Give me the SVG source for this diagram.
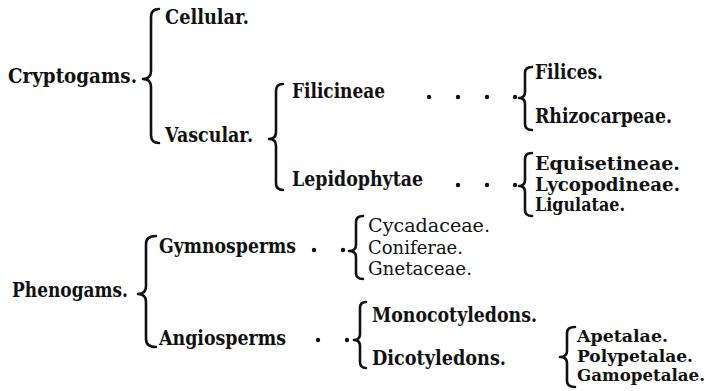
<svg xmlns="http://www.w3.org/2000/svg" width="712" height="391" viewBox="0 0 712 391">
<style>
text{font-family:"DejaVu Serif","Liberation Serif",serif;fill:#111}
.b{font-weight:bold;font-size:21px}
.s{font-weight:bold;font-size:20px}
.t{font-weight:bold;font-size:18px}
.u{font-weight:bold;font-size:17px}
.r{font-weight:normal;font-size:18px}
.br{fill:none;stroke:#111;stroke-width:2.6;stroke-linecap:round;stroke-linejoin:round}
.dot{fill:#111}
</style>
<rect width="712" height="391" fill="#fff"/>
<g id="connectors">
<path class="br" d="M159 9 Q151 9 151 17 L151 71 Q151 79 143 79 Q151 79 151 87 L151 135 Q151 143 159 143"/>
<path class="br" d="M283 84 Q276 84 276 91 L276 132 Q276 139 269 139 Q276 139 276 146 L276 183 Q276 190 283 190"/>
<path class="br" d="M532 67 Q525 67 525 73 L525 92 Q525 98 519 98 Q525 98 525 104 L525 124 Q525 130 532 130"/>
<path class="br" d="M532 153 Q525 153 525 159 L525 180 Q525 186 519 186 Q525 186 525 192 L525 210 Q525 216 532 216"/>
<path class="br" d="M156 236 Q146 236 146 244 L146 286 Q146 294 138 294 Q146 294 146 302 L146 339 Q146 347 156 347"/>
<path class="br" d="M363 216 Q356 216 356 222 L356 245 Q356 251 349 251 Q356 251 356 257 L356 273 Q356 279 363 279"/>
<path class="br" d="M366 302 Q360 302 360 308 L360 334 Q360 340 354 340 Q360 340 360 346 L360 362 Q360 368 366 368"/>
<path class="br" d="M575 327 Q567 327 567 333 L567 351 Q567 357 560 357 Q567 357 567 363 L567 381 Q567 387 575 387"/>
<circle class="dot" cx="429" cy="97" r="2.2"/>
<circle class="dot" cx="458" cy="97" r="2.2"/>
<circle class="dot" cx="487" cy="97" r="2.2"/>
<circle class="dot" cx="515" cy="97" r="2.2"/>
<circle class="dot" cx="458" cy="185" r="2.2"/>
<circle class="dot" cx="487" cy="185" r="2.2"/>
<circle class="dot" cx="515" cy="185" r="2.2"/>
<circle class="dot" cx="314" cy="250" r="2.2"/>
<circle class="dot" cx="343" cy="250" r="2.2"/>
<circle class="dot" cx="318" cy="340" r="2.2"/>
<circle class="dot" cx="347" cy="340" r="2.2"/>
</g>
<g id="cryptogams"><text class="b" x="8" y="83" textLength="129" lengthAdjust="spacingAndGlyphs">Cryptogams.</text></g>
<g id="cellular"><text class="b" x="165" y="24" textLength="84" lengthAdjust="spacingAndGlyphs">Cellular.</text></g>
<g id="vascular"><text class="b" x="165" y="142" textLength="88" lengthAdjust="spacingAndGlyphs">Vascular.</text></g>
<g id="filicineae"><text class="b" x="292" y="98" textLength="93" lengthAdjust="spacingAndGlyphs">Filicineae</text></g>
<g id="lepidophytae"><text class="b" x="292" y="186" textLength="131" lengthAdjust="spacingAndGlyphs">Lepidophytae</text></g>
<g id="filices"><text class="s" x="535" y="79" textLength="68" lengthAdjust="spacingAndGlyphs">Filices.</text></g>
<g id="rhizocarpeae"><text class="s" x="535" y="123" textLength="137" lengthAdjust="spacingAndGlyphs">Rhizocarpeae.</text></g>
<g id="equisetineae"><text class="t" x="535" y="170" textLength="145" lengthAdjust="spacingAndGlyphs">Equisetineae.</text></g>
<g id="lycopodineae"><text class="t" x="535" y="191" textLength="145" lengthAdjust="spacingAndGlyphs">Lycopodineae.</text></g>
<g id="ligulatae"><text class="t" x="535" y="211" textLength="90" lengthAdjust="spacingAndGlyphs">Ligulatae.</text></g>
<g id="phenogams"><text class="b" x="12" y="297" textLength="116" lengthAdjust="spacingAndGlyphs">Phenogams.</text></g>
<g id="gymnosperms"><text class="b" x="159" y="253" textLength="137" lengthAdjust="spacingAndGlyphs">Gymnosperms</text></g>
<g id="angiosperms"><text class="b" x="159" y="345" textLength="127" lengthAdjust="spacingAndGlyphs">Angiosperms</text></g>
<g id="cycadaceae"><text class="r" x="368" y="232" textLength="122" lengthAdjust="spacingAndGlyphs">Cycadaceae.</text></g>
<g id="coniferae"><text class="r" x="368" y="254" textLength="95" lengthAdjust="spacingAndGlyphs">Coniferae.</text></g>
<g id="gnetaceae"><text class="r" x="368" y="275" textLength="104" lengthAdjust="spacingAndGlyphs">Gnetaceae.</text></g>
<g id="monocotyledons"><text class="s" x="372" y="322" textLength="165" lengthAdjust="spacingAndGlyphs">Monocotyledons.</text></g>
<g id="dicotyledons"><text class="s" x="372" y="365" textLength="134" lengthAdjust="spacingAndGlyphs">Dicotyledons.</text></g>
<g id="apetalae"><text class="u" x="577" y="342" textLength="91" lengthAdjust="spacingAndGlyphs">Apetalae.</text></g>
<g id="polypetalae"><text class="u" x="577" y="362" textLength="116" lengthAdjust="spacingAndGlyphs">Polypetalae.</text></g>
<g id="gamopetalae"><text class="u" x="577" y="381" textLength="128" lengthAdjust="spacingAndGlyphs">Gamopetalae.</text></g>
</svg>
